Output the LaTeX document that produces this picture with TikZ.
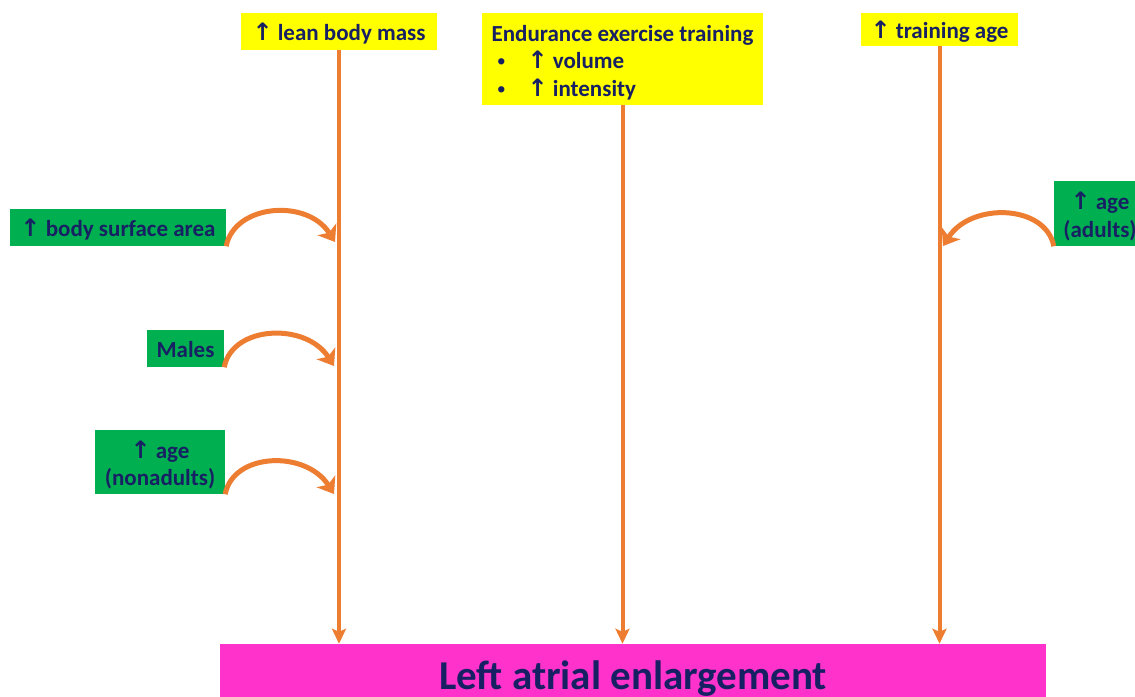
\documentclass[tikz,border=0pt]{standalone}
\usepackage{fontspec}
\setmainfont{Carlito}
\newfontfamily\arrowfont{DejaVu Sans}
\usetikzlibrary{arrows.meta,positioning}
\definecolor{boxyellow}{RGB}{255,255,0}
\definecolor{boxgreen}{RGB}{0,176,80}
\definecolor{boxpink}{RGB}{255,51,204}
\definecolor{linkorange}{RGB}{237,125,49}
\definecolor{textnavy}{RGB}{24,32,100}
\newcommand{\incr}{{\arrowfont\bfseries\fontsize{24}{27}\selectfont ↑}}
\newcommand{\dotitem}{\makebox[36pt][l]{\hspace*{4pt}{\arrowfont\fontsize{18}{27}\selectfont •}}}

\begin{document}
\begin{tikzpicture}[x=1pt, y=-1pt,
  factor/.style={text=textnavy, font=\fontsize{23}{27.5}\selectfont\bfseries, inner sep=0pt, minimum height=37pt},
  oneline/.style={text height=21pt, text depth=4pt},
  cause/.style={factor, fill=boxyellow},
  modifier/.style={factor, fill=boxgreen, align=center},
  flow/.style={draw=linkorange, line width=4pt, -{Stealth[length=15pt,width=14pt,inset=3pt]}},
  curvearrow/.style={draw=linkorange, line width=5pt, -{Stealth[length=15pt,width=22pt,inset=4pt]}}]
\useasboundingbox (0,0) rectangle (1135,696);
%% causes at the top
\node[cause, oneline, minimum width=196pt] (lbm) at (339,31.5) {\incr\ lean body mass};
\node[cause, minimum width=281pt, minimum height=92pt, align=left] (eet) at (622.5,59)
  {\rule{0pt}{23pt}Endurance exercise training\\
   \dotitem\incr\ volume\\
   \dotitem\incr\ intensity};
\node[cause, oneline, minimum width=157pt, minimum height=33pt] (tra) at (939.5,29.5) {\incr\ training age};
%% modifiers
\node[modifier, oneline, minimum width=216pt] (bsa) at (118,227.5) {\incr\ body surface area};
\node[modifier, oneline, minimum width=77pt] (mal) at (185.5,348.5) {Males};
\node[modifier, minimum width=130pt, minimum height=64pt] (nad) at (160,462) {\rule{0pt}{23pt}\incr\ age\\(nonadults)};
\node[modifier, minimum width=92pt, minimum height=65pt] (adu) at (1100,213.5) {\rule{0pt}{23pt}\incr\ age\\(adults)};
%% outcome
\node[fill=boxpink, text=textnavy, font=\fontsize{41}{48}\selectfont\bfseries, minimum width=826pt, minimum height=70pt, inner sep=0pt] (lae) at (633,679) {Left atrial enlargement};
%% main arrows
\draw[flow] (lbm.south) -- (lbm.south |- lae.north);
\draw[flow] (eet.south) -- (eet.south |- lae.north);
\draw[flow] (tra.south) -- (tra.south |- lae.north);
%% curved arrows
\coordinate (bsaend) at (335,242);
\coordinate (malend) at (334,366);
\coordinate (nadend) at (334,494);
\coordinate (aduend) at (943,246);
\draw[curvearrow] (bsa.south east) .. controls +(8,-42) and +(-28,-44) .. (bsaend);
\draw[curvearrow] (mal.south east) .. controls +(8,-42) and +(-28,-44) .. (malend);
\draw[curvearrow] (nad.south east) .. controls +(8,-42) and +(-28,-44) .. (nadend);
\draw[curvearrow] (adu.south west) .. controls +(-8,-42) and +(28,-44) .. (aduend);
\end{tikzpicture}
\end{document}
